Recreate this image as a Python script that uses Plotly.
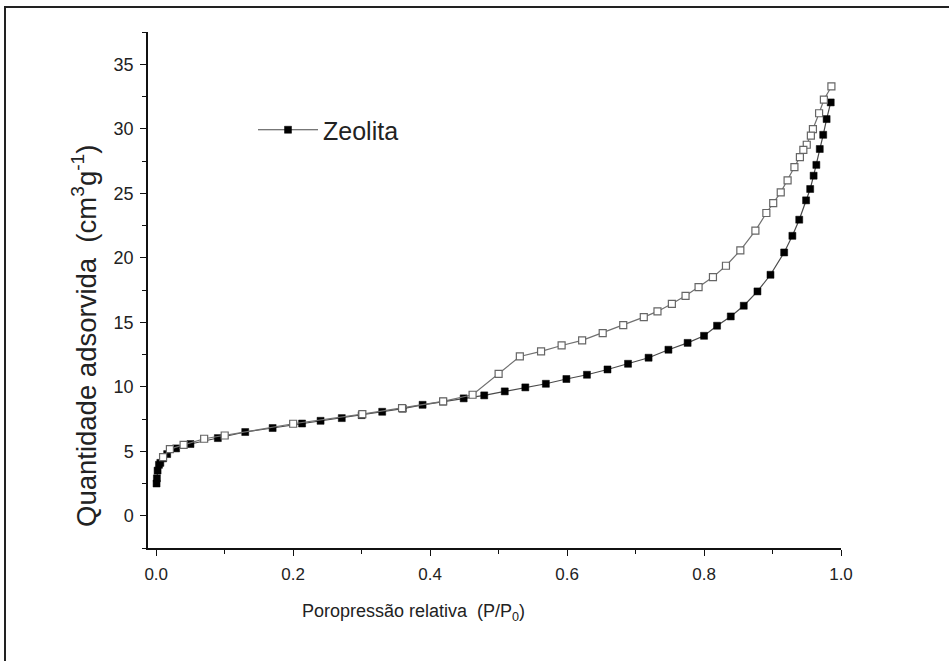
import plotly.graph_objects as go

# Adsorption branch (filled squares)
ads_p = [0.0005, 0.001, 0.002, 0.004, 0.006, 0.010, 0.016, 0.029, 0.050, 0.090,
         0.130, 0.170, 0.213, 0.240, 0.271, 0.300, 0.330, 0.360, 0.389, 0.419,
         0.449, 0.479, 0.509, 0.539, 0.569, 0.599, 0.629, 0.659, 0.689, 0.719,
         0.748, 0.776, 0.800, 0.819, 0.839, 0.858, 0.878, 0.897, 0.917, 0.929,
         0.939, 0.949, 0.955, 0.960, 0.964, 0.969, 0.974, 0.979, 0.985]
ads_q = [2.5, 2.9, 3.5, 3.95, 4.1, 4.45, 4.78, 5.22, 5.56, 6.02,
         6.49, 6.8, 7.15, 7.36, 7.57, 7.8, 8.06, 8.3, 8.6, 8.85,
         9.1, 9.33, 9.64, 9.95, 10.23, 10.6, 10.93, 11.34, 11.78, 12.25,
         12.87, 13.4, 13.95, 14.73, 15.45, 16.28, 17.39, 18.68, 20.41, 21.7,
         22.95, 24.45, 25.33, 26.36, 27.2, 28.43, 29.53, 30.75, 32.04]

# Desorption branch (open squares)
des_p = [0.986, 0.975, 0.968, 0.959, 0.956, 0.950, 0.945, 0.940, 0.932, 0.922,
         0.912, 0.901, 0.891, 0.875, 0.853, 0.832, 0.813, 0.792, 0.773, 0.753,
         0.732, 0.712, 0.682, 0.652, 0.622, 0.592, 0.562, 0.531, 0.500, 0.462,
         0.419, 0.359, 0.301, 0.200, 0.100, 0.070, 0.040, 0.020, 0.010]
des_q = [33.28, 32.25, 31.2, 29.97, 29.46, 28.76, 28.37, 27.8, 27.03, 26.0,
         25.07, 24.24, 23.47, 22.1, 20.57, 19.38, 18.5, 17.73, 17.05, 16.43,
         15.84, 15.4, 14.78, 14.16, 13.6, 13.2, 12.74, 12.35, 11.0, 9.38,
         8.86, 8.35, 7.88, 7.13, 6.22, 5.97, 5.5, 5.17, 4.55]

x_ticks = [0.0, 0.2, 0.4, 0.6, 0.8, 1.0]
x_tick_labels = ["0.0", "0.2", "0.4", "0.6", "0.8", "1.0"]
y_ticks = [0, 5, 10, 15, 20, 25, 30, 35]

FONT = "Liberation Sans, Arial, sans-serif"
TXT = "#222222"

fig = go.Figure()
fig.add_trace(go.Scatter(
    x=ads_p, y=ads_q, mode="lines+markers", name="Zeolita",
    line=dict(color="#4a4a4a", width=1.2),
    marker=dict(symbol="square", size=7, color="#000000",
                line=dict(color="#000000", width=0.5)),
    showlegend=True,
))
fig.add_trace(go.Scatter(
    x=des_p, y=des_q, mode="lines+markers", name="Dessorção",
    line=dict(color="#707070", width=1.2),
    marker=dict(symbol="square", size=7, color="#ffffff",
                line=dict(color="#666666", width=1.2)),
    showlegend=False,
))

L, R, T, B = 148, 108, 32, 113
W, H = 949, 661

def px_x(px):
    return (px - L) / (W - L - R)

def px_y(py):
    return (H - B - py) / (H - T - B)

fig.update_layout(
    width=W, height=H,
    margin=dict(l=L, r=R, t=T, b=B, pad=0),
    paper_bgcolor="white", plot_bgcolor="white",
    font=dict(family=FONT, size=17, color=TXT),
    legend=dict(
        x=px_x(253), y=px_y(130), xanchor="left", yanchor="middle",
        font=dict(size=25, color=TXT, family=FONT),
        itemwidth=60, bgcolor="rgba(0,0,0,0)", borderwidth=0,
    ),
    xaxis=dict(
        range=[-0.012, 1.0], showgrid=False, zeroline=False,
        showline=True, linecolor="#111111", linewidth=1.5,
        ticks="outside", ticklen=6, tickwidth=1.3, tickcolor="#111111",
        tickvals=x_ticks, ticktext=x_tick_labels,
        minor=dict(ticks="outside", ticklen=4, tickwidth=1.2, tickcolor="#111111",
                   dtick=0.1, showgrid=False),
        tickfont=dict(size=17, color=TXT),
        ticklabelstandoff=4,
        mirror=False,
    ),
    yaxis=dict(
        range=[-2.5, 37.5], showgrid=False, zeroline=False,
        showline=True, linecolor="#111111", linewidth=1.5,
        ticks="outside", ticklen=6, tickwidth=1.3, tickcolor="#111111",
        tickvals=y_ticks,
        minor=dict(ticks="outside", ticklen=4, tickwidth=1.2, tickcolor="#111111",
                   dtick=2.5, showgrid=False),
        tickfont=dict(size=18, color=TXT),
        ticklabelstandoff=3,
        mirror=False,
    ),
    annotations=[
        dict(text="Poropressão relativa  (P/P<sub>0</sub>)",
             xref="paper", yref="paper", x=px_x(413), y=px_y(612),
             xanchor="center", yanchor="middle", showarrow=False,
             font=dict(size=18, color=TXT, family=FONT)),
        dict(text="Quantidade adsorvida  (cm<sup>3</sup>g<sup>-1</sup>)",
             xref="paper", yref="paper", x=px_x(85), y=px_y(336),
             xanchor="center", yanchor="middle", showarrow=False, textangle=-90,
             font=dict(size=27.5, color=TXT, family=FONT)),
    ],
    shapes=[
        dict(type="path", xref="paper", yref="paper",
             path=f"M {px_x(5)},{px_y(661)} L {px_x(5)},{px_y(7)} L {px_x(949)},{px_y(7)}",
             line=dict(color="#222222", width=2)),
    ],
)

fig.write_html("out.html")
